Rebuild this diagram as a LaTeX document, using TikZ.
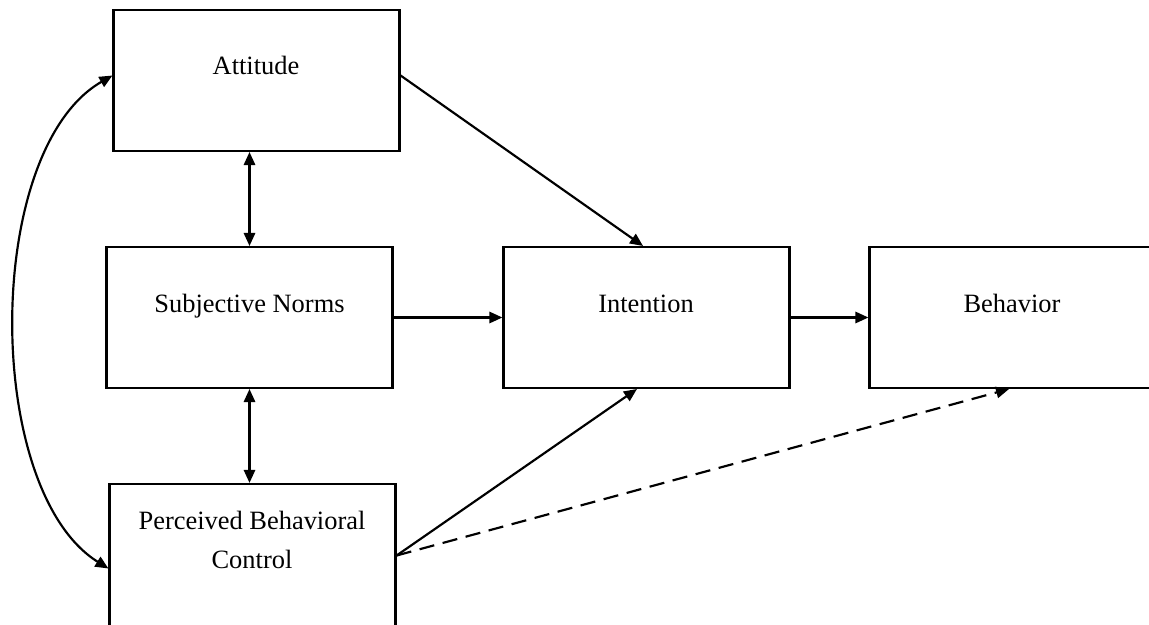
\documentclass[tikz,border=0pt]{standalone}
\usepackage{fontspec}
\setmainfont{Liberation Serif}
\usetikzlibrary{arrows.meta,positioning}

\begin{document}
\begin{tikzpicture}[x=0.4615pt, y=-0.4615pt,
    >={Triangle[length=6pt,width=5.2pt]},
    box/.style={draw, line width=1pt, minimum width=132pt, minimum height=65pt, inner sep=0pt},
    lbl/.style={font=\fontsize{12.2}{18}\selectfont, inner sep=0pt, align=center},
    link/.style={line width=1pt}]
    \useasboundingbox (0,0) rectangle (1149,624);
    \node[box] (att) at (256.5,80.5) {};
    \node[box] (sn) at (249.5,317.5) {};
    \node[box] (int) at (646.5,317.5) {};
    \node[box] (beh) at (1012.5,317.5) {};
    \node[box, minimum height=66pt] (pbc) at (252.5,555.5) {};

    \node[lbl, anchor=base] (attlbl) at (256,75) {Attitude};
    \node[lbl, anchor=base] (snlbl) at (249.5,312) {Subjective Norms};
    \node[lbl, anchor=base] (intlbl) at (646,312) {Intention};
    \node[lbl, anchor=base] (behlbl) at (1012,312) {Behavior};
    \node[lbl, anchor=north] (pbclbl) at (252,511) {Perceived Behavioral\\Control};

    \draw[link, ->] ([yshift=2.3pt]att.east) -- ([xshift=-1.6pt]int.north);
    \draw[link, <->] (sn.north |- att.south) -- (sn.north);
    \draw[link, <->] (sn.south) -- (sn.south |- pbc.north);
    \draw[link, ->] (sn.east) -- (int.west);
    \draw[link, ->] (int.east) -- (beh.west);
    \draw[link, ->] (pbc.east) -- ([xshift=-4.4pt]int.south);
    \draw[link, dash pattern=on 7pt off 4pt, ->] (pbc.east) -- ([xshift=-1.6pt]beh.south);
    \draw[link, <->] ([yshift=2.3pt]att.west) .. controls (-17,150) and (-17,490) .. ([yshift=-6pt]pbc.west);
\end{tikzpicture}
\end{document}
